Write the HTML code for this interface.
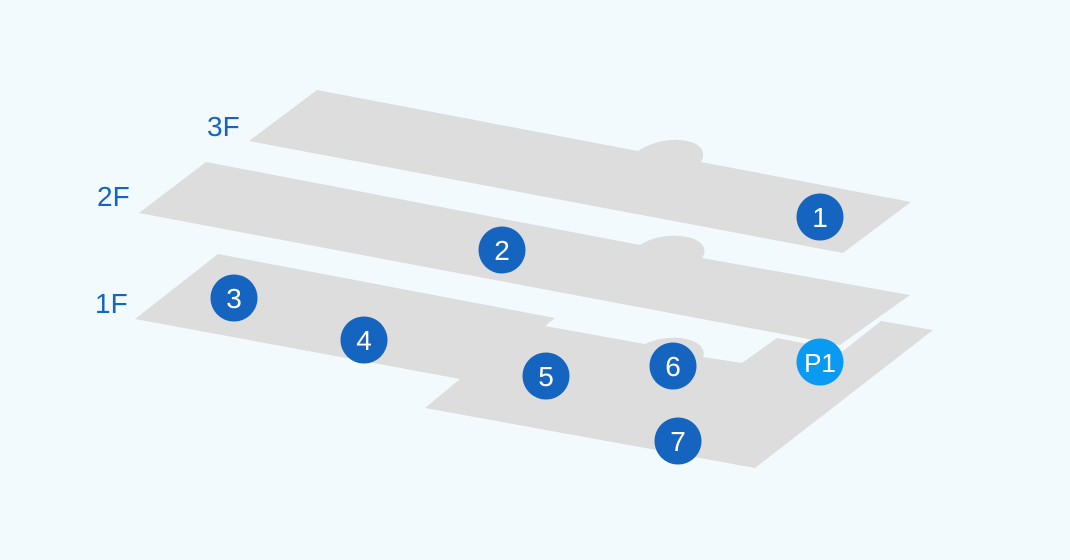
<!DOCTYPE html>
<html><head><meta charset="utf-8"><style>
html,body{margin:0;padding:0;background:#f3fafd;}
svg{display:block}
text{font-family:"Liberation Sans",sans-serif;}
</style></head><body>
<svg width="1070" height="560" viewBox="0 0 1070 560" xmlns="http://www.w3.org/2000/svg">
<rect width="1070" height="560" fill="#f3fafd"/>
<g fill="#dcdddc">
<path d="M317,90 L638,151 C650,143 665,139 680,140 C704,142 706,154 701,162 L911,202 L843,253 L249,141 Z"/>
<path d="M206,162 L640,245 C652,237 667,235 680,236 C704,238 708,250 702,258 L910,295 L840,345 L139,213 Z"/>
<path d="M218,254 L555,318 L545,326 L645,344 C655,339 668,337 680,338 C700,340 706,350 703,357 L742,363 L777,338 L843,351 L881,321 L933,330 L755,468 L425,408 L460,379 L135,319 Z"/>
</g>
<g fill="#1565c0" font-size="28">
<text x="207" y="136">3F</text>
<text x="97" y="206">2F</text>
<text x="95" y="313">1F</text>
</g>
<g fill="#1565c0">
<circle cx="820" cy="217" r="23.5"/>
<circle cx="502" cy="250" r="23.5"/>
<circle cx="234" cy="298" r="23.5"/>
<circle cx="364" cy="340" r="23.5"/>
<circle cx="546" cy="376" r="23.5"/>
<circle cx="673" cy="366" r="23.5"/>
<circle cx="678" cy="441" r="23.5"/>
</g>
<circle cx="820" cy="362" r="23.5" fill="#0a9af2"/>
<g fill="#fff" font-size="28" text-anchor="middle">
<text x="820" y="227">1</text>
<text x="502" y="260">2</text>
<text x="234" y="308">3</text>
<text x="364" y="350">4</text>
<text x="546" y="386">5</text>
<text x="673" y="376">6</text>
<text x="678" y="451">7</text>
<text x="820" y="372" font-size="26">P1</text>
</g>
</svg>
</body></html>
